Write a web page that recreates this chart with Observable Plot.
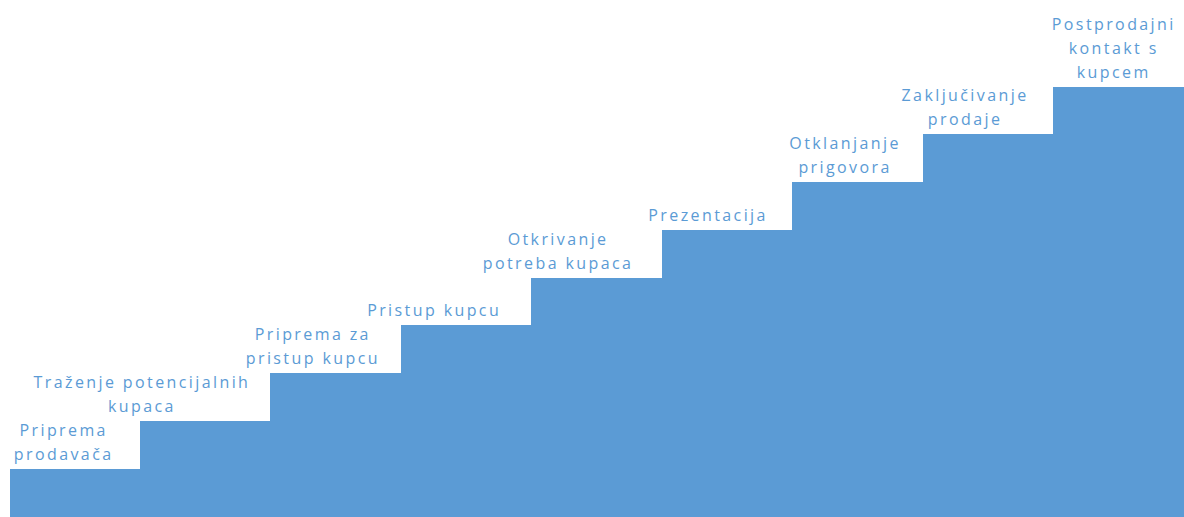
<!DOCTYPE html>
<html>
<head>
<meta charset="utf-8">
<script src="https://cdn.jsdelivr.net/npm/d3@7"></script>
<script src="https://cdn.jsdelivr.net/npm/@observablehq/plot@0.6"></script>
<style>
  html, body { margin: 0; padding: 0; background: #fff; }
  #chart svg { display: block; }
</style>
</head>
<body>
<div id="chart"></div>
<script>
// Steps of the sales process (Croatian), in order
const steps = [
  "Priprema\nprodavača",
  "Traženje potencijalnih\nkupaca",
  "Priprema za\npristup kupcu",
  "Pristup kupcu",
  "Otkrivanje\npotreba kupaca",
  "Prezentacija",
  "Otklanjanje\nprigovora",
  "Zaključivanje\nprodaje",
  "Postprodajni\nkontakt s\nkupcem"
];
// Step level (height) of each stair
const levels = [1, 2, 3, 4, 5, 6, 7, 8, 9];
// Horizontal position of each label's centre, in step units
const labelPos = [0.40, 1.00, 2.31, 3.24, 4.19, 5.34, 6.39, 7.31, 8.45];

const data = steps.map((name, i) => ({
  name,
  x1: i,
  x2: i + 1,
  level: levels[i],
  lx: labelPos[i]
}));

const chart = Plot.plot({
  width: 1184,
  height: 517,
  marginLeft: 10,
  marginRight: 0,
  marginTop: 87,
  marginBottom: 0,
  style: { fontFamily: "'Open Sans', sans-serif", letterSpacing: "2.4px", background: "#fff", overflow: "visible" },
  x: { domain: [0, 9], axis: null },
  y: { domain: [0, 9], axis: null },
  marks: [
    Plot.rectY(data, {
      x1: "x1", x2: "x2", y1: 0, y2: "level",
      fill: "#5B9BD5", stroke: "#5B9BD5", strokeWidth: 1,
      shapeRendering: "crispEdges", inset: 0
    }),
    Plot.text(data, {
      x: "lx",
      y: "level",
      text: "name",
      lineAnchor: "bottom",
      lineHeight: 1.5,
      dy: -10,
      dx: 1,
      fontSize: 16,
      fill: "#5B9BD5",
      textAnchor: "middle"
    })
  ]
});
document.getElementById("chart").appendChild(chart);
</script>
</body>
</html>
